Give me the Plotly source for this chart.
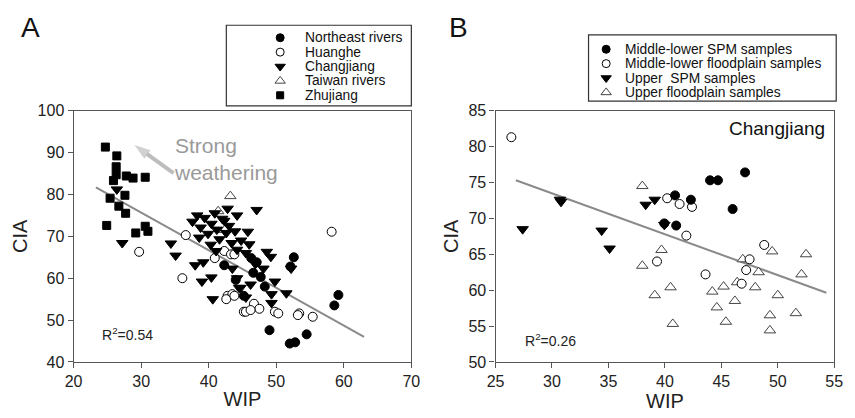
import plotly.graph_objects as go

# ---------------- Panel A data (WIP, CIA) ----------------
ne_x = [46.3, 52.6, 52.1, 59.2, 58.6, 49.0, 54.5, 52.0, 52.8, 47.1, 42.3, 44.0, 45.2, 46.6, 47.7, 48.3]
ne_y = [64.8, 65.0, 62.8, 56.0, 53.5, 47.6, 46.6, 44.4, 44.7, 63.8, 63.1, 59.6, 55.8, 61.3, 60.3, 58.0]

hh_x = [29.7, 36.1, 36.6, 40.9, 42.3, 43.3, 42.8, 43.5, 42.6, 45.2, 43.8, 43.8, 45.5, 46.7, 47.5, 46.2, 49.8, 50.3, 53.4, 53.2, 55.4, 58.2]
hh_y = [66.3, 60.0, 70.3, 64.8, 66.5, 65.7, 55.8, 56.2, 55.0, 52.0, 65.7, 55.8, 52.0, 53.9, 52.7, 52.4, 52.0, 51.6, 51.6, 51.2, 50.8, 71.1]

cj_x = [26.4, 27.2, 34.4, 35.1, 38.0, 39.2, 40.4, 39.0, 40.6, 43.5, 44.2, 44.5, 45.8, 48.6, 49.2, 48.1,
        46.9, 44.7, 45.5, 49.3, 49.3, 49.8, 51.5, 52.2, 46.2, 47.1, 44.2, 42.3,
        37.6, 38.3, 38.8, 39.4, 39.9, 40.4, 40.9, 41.2, 41.6, 42.0, 42.6, 43.0, 43.4, 43.9, 44.2,
        40.3, 42.8, 38.6, 41.1, 44.8, 45.5, 46.0]
cj_y = [81.2, 68.4, 68.3, 65.4, 63.1, 63.8, 60.2, 59.2, 55.0, 62.3, 60.0, 57.7, 71.1, 66.3, 65.1, 62.3,
        63.4, 57.7, 55.4, 56.2, 54.1, 59.2, 56.4, 62.3, 58.5, 76.3, 75.0, 73.7,
        73.5, 75.0, 72.1, 74.4, 70.6, 73.0, 75.5, 71.6, 69.3, 74.2, 70.8, 72.5, 68.4, 71.2, 66.8,
        68.0, 76.6, 69.7, 66.5, 69.0, 66.0, 68.1]

tw_x = [43.2, 41.4, 42.4]
tw_y = [79.6, 76.0, 71.5]

zj_x = [24.7, 26.4, 26.3, 26.3, 27.8, 28.8, 30.6, 25.9, 25.4, 27.6, 26.7, 27.7, 24.9, 29.2, 30.6, 31.0]
zj_y = [91.3, 89.2, 86.6, 84.7, 84.4, 83.9, 84.1, 83.3, 79.1, 79.8, 77.2, 75.5, 72.6, 70.8, 72.4, 71.2]

fitA_x = [23.3, 63.0]
fitA_y = [81.7, 46.0]

arrow_x = [34.8, 29.0]
arrow_y = [85.1, 91.8]

# ---------------- Panel B data (Changjiang) ----------------
mls_x = [40.9, 42.3, 44.0, 44.7, 47.1, 46.0, 39.95, 41.0]
mls_y = [73.2, 72.6, 75.3, 75.3, 76.4, 71.3, 69.3, 69.0]

mlf_x = [26.4, 40.2, 41.3, 42.4, 41.9, 39.3, 43.6, 47.5, 47.2, 46.8, 48.8]
mlf_y = [81.3, 72.8, 72.0, 71.6, 67.6, 64.0, 62.2, 64.3, 62.8, 60.9, 66.3]

ups_x = [27.4, 30.7, 30.8, 34.4, 35.1, 38.3, 39.1, 39.95]
ups_y = [68.5, 72.6, 72.3, 68.3, 65.8, 71.9, 72.6, 69.1]

upf_x = [38.0, 39.7, 38.0, 40.5, 39.1, 40.7, 44.2, 45.2, 44.6, 45.4, 46.4, 46.2, 46.9, 48.3, 48.0,
         49.5, 50.0, 49.3, 49.3, 51.6, 52.5, 52.1]
upf_y = [74.5, 65.6, 63.4, 60.4, 59.3, 55.3, 59.8, 60.5, 57.6, 55.6, 61.1, 58.5, 64.3, 62.5, 60.4,
         65.4, 59.3, 56.5, 54.4, 56.8, 65.0, 62.2]

fitB_x = [26.8, 54.3]
fitB_y = [75.3, 59.65]

legendA_names = ["Northeast rivers", "Huanghe", "Changjiang", "Taiwan rivers", "Zhujiang"]
legendB_names = ["Middle-lower SPM samples", "Middle-lower floodplain samples",
                 "Upper  SPM samples", "Upper floodplain samples"]

W, H = 855, 418
FONT = "Liberation Sans, Arial, sans-serif"

filled = dict(color="black", line=dict(color="black", width=1))
openc = dict(color="white", line=dict(color="black", width=1))
opent = dict(color="white", line=dict(color="#444", width=1))

sty_circ_f = dict(symbol="circle", size=9, **filled)
sty_circ_o = dict(symbol="circle", size=9, **openc)
sty_tri_d = dict(symbol="triangle-down", size=10, **filled)
sty_tri_u = dict(symbol="triangle-up", size=10, **opent)
sty_sq = dict(symbol="square", size=8, **filled)

fig = go.Figure()

def add(x, y, marker, xa, ya):
    fig.add_trace(go.Scatter(x=x, y=y, mode="markers", marker=marker,
                             xaxis=xa, yaxis=ya, showlegend=False, hoverinfo="skip"))

# Panel A
fig.add_trace(go.Scatter(x=fitA_x, y=fitA_y, mode="lines", line=dict(color="#8a8a8a", width=2),
                         xaxis="x", yaxis="y", showlegend=False))
# weathering arrow
fig.add_trace(go.Scatter(x=arrow_x, y=arrow_y, mode="lines+markers",
                         line=dict(color="#bdbdbd", width=4),
                         marker=dict(symbol=["circle", "arrow"], size=[0, 17], angleref="previous",
                                     color="#bdbdbd", line=dict(width=0)),
                         xaxis="x", yaxis="y", showlegend=False, hoverinfo="skip"))
add(hh_x, hh_y, sty_circ_o, "x", "y")
add(tw_x, tw_y, sty_tri_u, "x", "y")
add(cj_x, cj_y, sty_tri_d, "x", "y")
add(ne_x, ne_y, sty_circ_f, "x", "y")
add(zj_x, zj_y, sty_sq, "x", "y")

# Panel B
fig.add_trace(go.Scatter(x=fitB_x, y=fitB_y, mode="lines", line=dict(color="#8a8a8a", width=2),
                         xaxis="x2", yaxis="y2", showlegend=False))
add(upf_x, upf_y, sty_tri_u, "x2", "y2")
add(mlf_x, mlf_y, sty_circ_o, "x2", "y2")
add(mls_x, mls_y, sty_circ_f, "x2", "y2")
add(ups_x, ups_y, sty_tri_d, "x2", "y2")

# Manual legends on a pixel overlay axis
legA_styles = [sty_circ_f, sty_circ_o, sty_tri_d, sty_tri_u, sty_sq]
legB_styles = [sty_circ_f, sty_circ_o, sty_tri_d, sty_tri_u]
legA_x0, legA_y0, legA_dy = 277, 31, 15
legB_x0, legB_y0, legB_dy = 610, 43, 15

annotations = []
for i, (nm, st) in enumerate(zip(legendA_names, legA_styles)):
    yy = legA_y0 + i * legA_dy
    m = dict(st)
    m["size"] = st["size"] - 1
    add([legA_x0], [yy], m, "x3", "y3")
    annotations.append(dict(x=legA_x0 + 23, y=yy, xref="x3", yref="y3", text=nm, showarrow=False,
                            xanchor="left", yanchor="middle", font=dict(size=13.8, color="#111", family=FONT)))
for i, (nm, st) in enumerate(zip(legendB_names, legB_styles)):
    yy = legB_y0 + i * legB_dy
    m = dict(st)
    m["size"] = st["size"] - 1
    add([legB_x0], [yy], m, "x3", "y3")
    annotations.append(dict(x=legB_x0 + 17, y=yy, xref="x3", yref="y3", text=nm, showarrow=False,
                            xanchor="left", yanchor="middle", font=dict(size=13.8, color="#111", family=FONT)))

shapes = [
    dict(type="rect", xref="x3", yref="y3", x0=222, x1=411, y0=18, y1=102,
         line=dict(color="#333", width=1.2), fillcolor="rgba(0,0,0,0)"),
    dict(type="rect", xref="x3", yref="y3", x0=592, x1=845, y0=28, y1=97,
         line=dict(color="#333", width=1.2), fillcolor="rgba(0,0,0,0)"),
]

# Other annotations
annotations += [
    dict(x=10, y=20, xref="x3", yref="y3", text="A", showarrow=False, xanchor="left", yanchor="middle",
         font=dict(size=28, color="#111", family=FONT)),
    dict(x=447, y=20, xref="x3", yref="y3", text="B", showarrow=False, xanchor="left", yanchor="middle",
         font=dict(size=28, color="#111", family=FONT)),
    dict(x=34.5, y=88.5, xref="x", yref="y", text="Strong<br>weathering", showarrow=False,
         xanchor="left", yanchor="middle", align="left", font=dict(size=21, color="#9a9a9a", family=FONT)),
    dict(x=23.9, y=46.6, xref="x", yref="y", text="R<sup>2</sup>=0.54", showarrow=False,
         xanchor="left", yanchor="middle", font=dict(size=14, color="#222", family=FONT)),
    dict(x=27.4, y=53.1, xref="x2", yref="y2", text="R<sup>2</sup>=0.26", showarrow=False,
         xanchor="left", yanchor="middle", font=dict(size=14, color="#222", family=FONT)),
    dict(x=54.4, y=82.5, xref="x2", yref="y2", text="Changjiang", showarrow=False,
         xanchor="right", yanchor="middle", font=dict(size=19, color="#111", family=FONT)),
]

ax_common = dict(showline=True, linecolor="#555", linewidth=1.2, mirror=True, ticks="outside",
                 ticklen=5, tickcolor="#555", showgrid=False, zeroline=False,
                 tickfont=dict(size=16, color="#222", family=FONT))

ydom = [1 - 369 / H, 1 - 107 / H]
fig.update_layout(
    width=W, height=H, margin=dict(l=0, r=0, t=0, b=0),
    paper_bgcolor="white", plot_bgcolor="rgba(0,0,0,0)",
    font=dict(family=FONT),
    xaxis=dict(domain=[66 / W, 411 / W], range=[20, 70], dtick=10, anchor="y",
               title=dict(text="WIP", font=dict(size=20, color="#222"), standoff=2), **ax_common),
    yaxis=dict(domain=ydom, range=[40, 100], dtick=10, anchor="x",
               title=dict(text="CIA", font=dict(size=20, color="#222"), standoff=4), **ax_common),
    xaxis2=dict(domain=[497 / W, 843 / W], range=[25, 55], dtick=5, anchor="y2",
                title=dict(text="WIP", font=dict(size=20, color="#222"), standoff=2), **ax_common),
    yaxis2=dict(domain=ydom, range=[50, 85], dtick=5, anchor="x2",
                title=dict(text="CIA", font=dict(size=20, color="#222"), standoff=4), **ax_common),
    xaxis3=dict(domain=[0, 1], range=[0, W], visible=False, anchor="y3", fixedrange=True),
    yaxis3=dict(domain=[0, 1], range=[H, 0], visible=False, anchor="x3", fixedrange=True),
    annotations=annotations, shapes=shapes,
)

fig.write_html("out.html")
